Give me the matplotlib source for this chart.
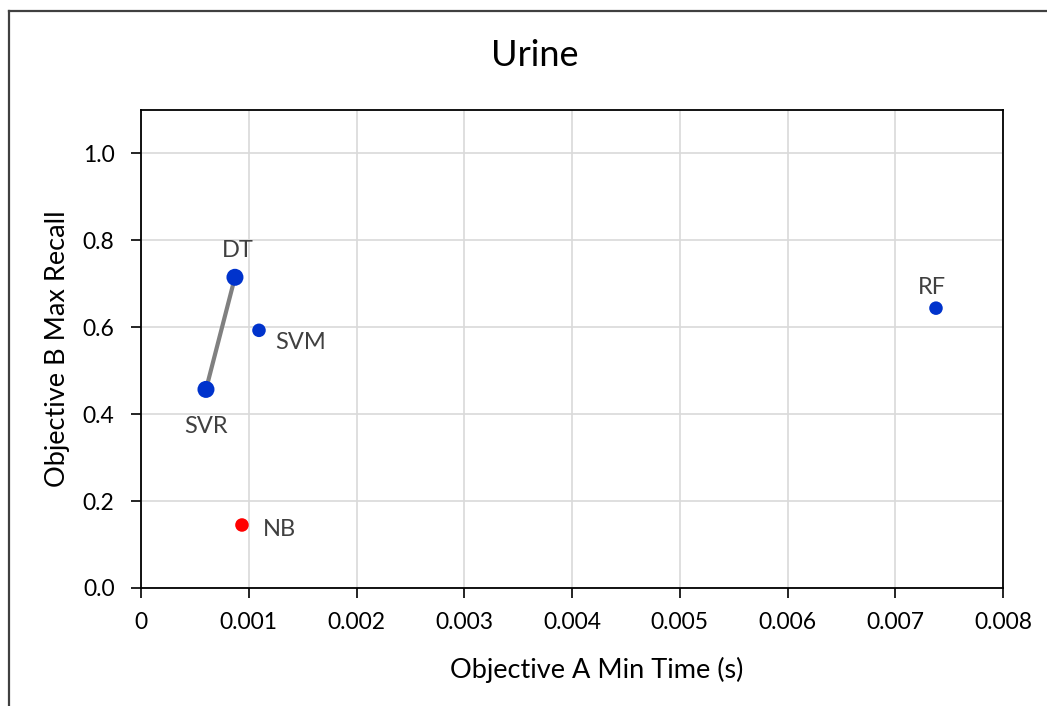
import matplotlib
matplotlib.use("Agg")
import matplotlib.pyplot as plt
from matplotlib.lines import Line2D

plt.rcParams['font.family'] = ['Lato', 'DejaVu Sans']

# Model results: time (s) vs recall
models = ["DT", "SVM", "SVR", "NB", "RF"]
time_s = [0.000872, 0.001095, 0.000603, 0.000937, 0.007378]
recall = [0.715, 0.593, 0.457, 0.145, 0.644]
colors = ["#0033CC", "#0033CC", "#0033CC", "#FF0000", "#0033CC"]
sizes = [150, 95, 150, 95, 95]

# Pareto front segment
front = ["SVR", "DT"]

x_ticks = [0, 0.001, 0.002, 0.003, 0.004, 0.005, 0.006, 0.007, 0.008]
x_tick_labels = ["0", "0.001", "0.002", "0.003", "0.004", "0.005", "0.006", "0.007", "0.008"]
y_ticks = [0.0, 0.2, 0.4, 0.6, 0.8, 1.0]

fig = plt.figure(figsize=(10.47, 7.06), dpi=100)
ax = fig.add_axes([141 / 1047, 1 - 588 / 706, (1003 - 141) / 1047, (588 - 110) / 706])

ax.set_xlim(0, 0.008)
ax.set_ylim(0, 1.1)
ax.set_xticks(x_ticks)
ax.set_xticklabels(x_tick_labels)
ax.set_yticks(y_ticks)
ax.set_yticklabels([f"{v:.1f}" for v in y_ticks])
ax.grid(True, color="#d9d9d9", linewidth=1.2)
ax.set_axisbelow(True)
for sp in ax.spines.values():
    sp.set_color("#000000")
    sp.set_linewidth(1.3)
ax.tick_params(axis="both", direction="out", length=7, width=1.2, color="#000000",
               labelsize=16.5, labelcolor="#000000")
ax.tick_params(axis="x", pad=10)
ax.tick_params(axis="y", pad=12)

fi = [models.index(m) for m in front]
ax.plot([time_s[i] for i in fi], [recall[i] for i in fi], color="#808080",
        linewidth=3, zorder=2)

ax.scatter(time_s, recall, s=sizes, c=colors, zorder=3, linewidths=0)

offsets = {"DT": (2, 12, "center", "bottom"),
           "SVM": (12, -1, "left", "top"),
           "SVR": (0, -19, "center", "top"),
           "NB": (15, -3, "left", "center"),
           "RF": (-3, 7, "center", "bottom")}
for m, x, y in zip(models, time_s, recall):
    dx, dy, ha, va = offsets[m]
    ax.annotate(m, (x, y), xytext=(dx, dy), textcoords="offset points",
                ha=ha, va=va, fontsize=17, color="#404040")

fig.text(597 / 1047, 1 - 670 / 706, "Objective A Min Time (s)", ha="center", va="center",
         fontsize=19.5, color="#000000")
ax.set_ylabel("Objective B Max Recall", fontsize=19.5, color="#000000", labelpad=9)
fig.text(535 / 1047, 1 - 55 / 706, "Urine", ha="center", va="center",
         fontsize=26, color="#000000")

# Outer chart frame (left and top edges)
fig.add_artist(Line2D([9 / 1047, 9 / 1047], [0, 1 - 11 / 706], transform=fig.transFigure,
                      color="#404040", linewidth=1.6))
fig.add_artist(Line2D([9 / 1047, 1], [1 - 11 / 706, 1 - 11 / 706], transform=fig.transFigure,
                      color="#404040", linewidth=1.6))

fig.savefig("out.png", dpi=100, facecolor="white")
